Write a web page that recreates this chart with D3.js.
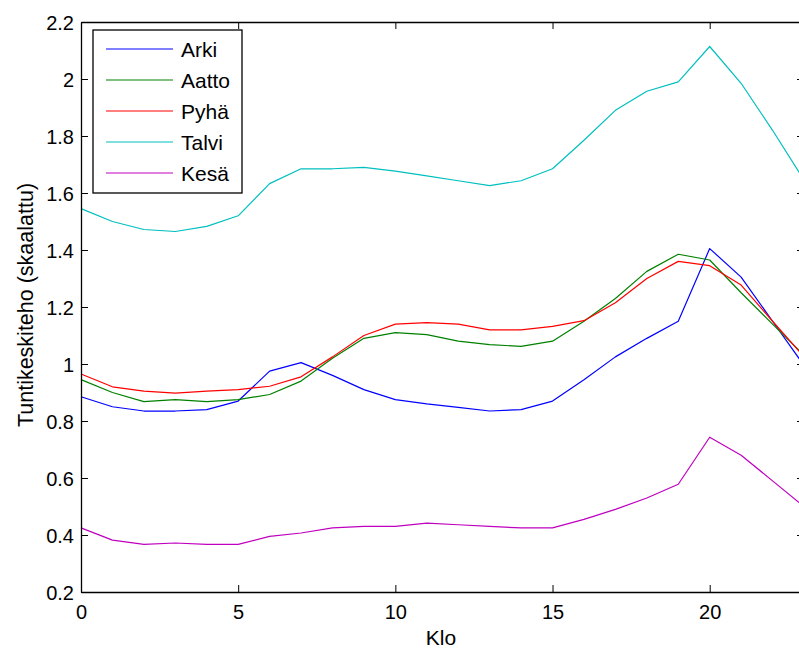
<!DOCTYPE html>
<html>
<head>
<meta charset="utf-8">
<script src="https://cdn.jsdelivr.net/npm/d3@7"></script>
<style>
  html, body { margin: 0; padding: 0; background: #fff; overflow: hidden; }
  svg { display: block; font-family: "Liberation Sans", Arial, sans-serif; }
</style>
</head>
<body>
<svg id="chart" width="799" height="648"></svg>
<script>
// Hourly load profiles (scaled), hours 0..23
const hours = d3.range(0, 24);
const seriesNames = ["Arki", "Aatto", "Pyhä", "Talvi", "Kesä"];
const seriesColors = ["#0000ff", "#008000", "#ff0000", "#00bfbf", "#bf00bf"];

const arki  = [0.885, 0.850, 0.835, 0.835, 0.840, 0.870, 0.975, 1.005, 0.960, 0.910, 0.875, 0.860,
               0.848, 0.835, 0.840, 0.870, 0.945, 1.025, 1.090, 1.150, 1.405, 1.305, 1.150, 0.995];
const aatto = [0.945, 0.900, 0.868, 0.875, 0.868, 0.875, 0.893, 0.940, 1.020, 1.090, 1.110, 1.103,
               1.080, 1.068, 1.062, 1.080, 1.150, 1.230, 1.325, 1.385, 1.365, 1.250, 1.140, 1.030];
const pyha  = [0.965, 0.920, 0.905, 0.898, 0.905, 0.910, 0.922, 0.955, 1.025, 1.100, 1.140, 1.145,
               1.140, 1.120, 1.120, 1.132, 1.152, 1.215, 1.300, 1.360, 1.345, 1.277, 1.150, 1.025];
const talvi = [1.545, 1.500, 1.472, 1.465, 1.483, 1.520, 1.633, 1.685, 1.685, 1.690, 1.677, 1.660,
               1.643, 1.626, 1.643, 1.685, 1.785, 1.890, 1.957, 1.990, 2.114, 1.985, 1.820, 1.645];
const kesa  = [0.425, 0.382, 0.367, 0.372, 0.367, 0.367, 0.395, 0.407, 0.425, 0.430, 0.430, 0.442,
               0.436, 0.430, 0.425, 0.425, 0.455, 0.490, 0.530, 0.578, 0.743, 0.680, 0.590, 0.500];
const seriesValues = [arki, aatto, pyha, talvi, kesa];

const xTicks = [0, 5, 10, 15, 20];
const yTicks = [0.2, 0.4, 0.6, 0.8, 1, 1.2, 1.4, 1.6, 1.8, 2, 2.2];

const svg = d3.select("#chart");
const plotLeft = 81, plotRight = 804, plotTop = 22, plotBottom = 592;

const x = d3.scaleLinear().domain([0, 23]).range([plotLeft, plotRight]);
const y = d3.scaleLinear().domain([0.2, 2.2]).range([plotBottom, plotTop]);

// Lines
const line = d3.line().x((d, i) => x(hours[i])).y(d => y(d));
const plot = svg.append("g");
seriesValues.forEach((vals, k) => {
  plot.append("path")
    .datum(vals)
    .attr("fill", "none")
    .attr("stroke", seriesColors[k])
    .attr("stroke-width", 1.2)
    .attr("stroke-linejoin", "round")
    .attr("d", line);
});

// Axes (box with inward ticks)
const tickLen = 7;
const fmt = d => String(+d.toFixed(1));

const xAxisB = svg.append("g").attr("transform", `translate(0,${plotBottom})`)
  .call(d3.axisBottom(x).tickValues(xTicks).tickSizeInner(-tickLen).tickSizeOuter(0).tickFormat(fmt));
const xAxisT = svg.append("g").attr("transform", `translate(0,${plotTop})`)
  .call(d3.axisTop(x).tickValues(xTicks).tickSizeInner(-tickLen).tickSizeOuter(0).tickFormat(""));
const yAxisL = svg.append("g").attr("transform", `translate(${plotLeft},0)`)
  .call(d3.axisLeft(y).tickValues(yTicks).tickSizeInner(-tickLen).tickSizeOuter(0).tickPadding(7).tickFormat(fmt));
const yAxisR = svg.append("g").attr("transform", `translate(${plotRight},0)`)
  .call(d3.axisRight(y).tickValues(yTicks).tickSizeInner(-tickLen).tickSizeOuter(0).tickFormat(""));

[xAxisB, xAxisT, yAxisL, yAxisR].forEach(g => {
  g.select(".domain").attr("stroke", "#000").attr("stroke-width", 1.3);
  g.selectAll(".tick line").attr("stroke", "#000").attr("stroke-width", 1);
  g.selectAll(".tick text")
    .attr("fill", "#000")
    .style("font-family", "'Liberation Sans', Arial, sans-serif")
    .style("font-size", "20px");
});
xAxisB.selectAll(".tick text").attr("y", 27).attr("dy", 0);
yAxisL.selectAll(".tick text").attr("dy", "0.36em");

// Axis labels
svg.append("text")
  .attr("x", 441).attr("y", 645)
  .attr("text-anchor", "middle")
  .style("font-size", "21px")
  .text("Klo");
svg.append("text")
  .attr("transform", "translate(33,305) rotate(-90)")
  .attr("text-anchor", "middle")
  .style("font-size", "21.5px")
  .text("Tuntikeskiteho (skaalattu)");

// Legend
const legend = svg.append("g");
legend.append("rect")
  .attr("x", 93).attr("y", 30).attr("width", 149).attr("height", 163)
  .attr("fill", "#fff").attr("stroke", "#000").attr("stroke-width", 1.3);
seriesNames.forEach((name, k) => {
  const cy = 49 + k * 31;
  legend.append("line")
    .attr("x1", 106).attr("x2", 173).attr("y1", cy).attr("y2", cy)
    .attr("stroke", seriesColors[k]).attr("stroke-width", 1.2);
  legend.append("text")
    .attr("x", 181).attr("y", cy).attr("dy", "0.36em")
    .style("font-size", "21px")
    .text(name);
});
</script>
</body>
</html>
